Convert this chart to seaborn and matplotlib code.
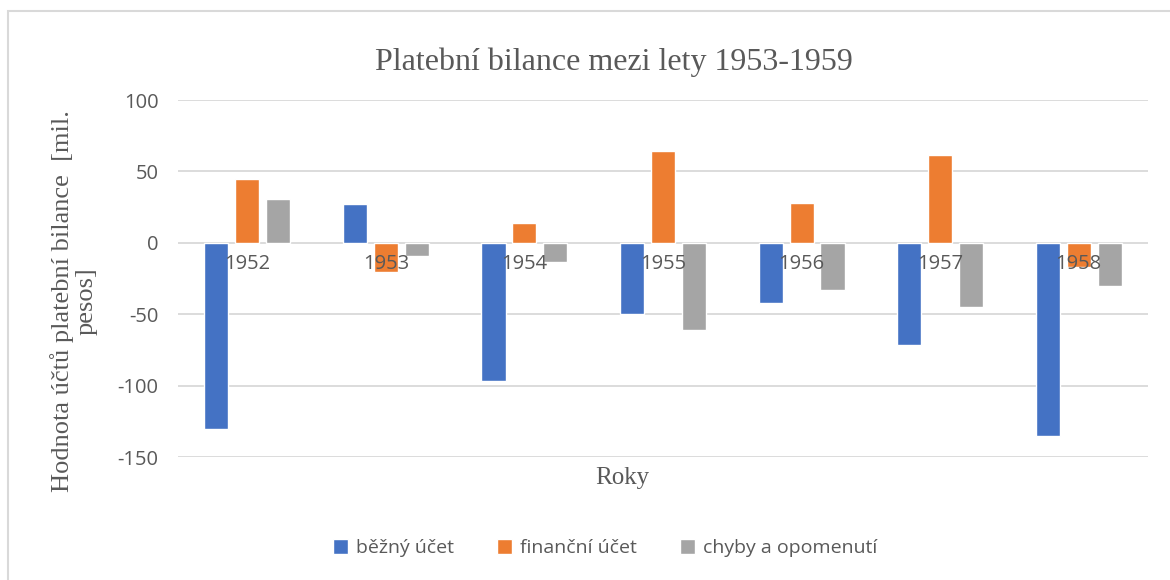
import pandas as pd
import matplotlib.pyplot as plt
import seaborn as sns
from matplotlib.patches import Rectangle

# --- DATA ---
years = ['1952', '1953', '1954', '1955', '1956', '1957', '1958']
bezny_ucet = [-130, 27, -96.5, -49.5, -42, -71.5, -135]
financni_ucet = [45, -20, 14, 64.5, 28, 61.5, -17]
chyby = [31, -9.5, -13.5, -61, -33, -45, -30]
series_names = ['běžný účet', 'finanční účet', 'chyby a opomenutí']
colors = ['#4472C4', '#ED7D31', '#A5A5A5']

TEXT = '#595959'
GRID = '#D9D9D9'

df = pd.DataFrame({'rok': years, series_names[0]: bezny_ucet,
                   series_names[1]: financni_ucet, series_names[2]: chyby})
long_df = df.melt(id_vars='rok', var_name='serie', value_name='hodnota')

sns.set_theme(style='white')
plt.rcParams['font.family'] = ['Open Sans', 'DejaVu Sans']
plt.rcParams['axes.unicode_minus'] = False

fig = plt.figure(figsize=(11.7, 5.8), dpi=100)
ax = fig.add_axes([178 / 1170, 1 - 457.3 / 580, 970 / 1170, 357.3 / 580])

sns.barplot(data=long_df, x='rok', y='hodnota', hue='serie',
            palette=colors, saturation=1, width=0.67, gap=0.22, ax=ax, legend=True)

ax.set_ylim(-150, 100)
ax.set_xlim(-0.5, len(years) - 0.5)
ax.set_yticks([-150, -100, -50, 0, 50, 100])
ax.yaxis.grid(True, color=GRID, linewidth=1.3)
ax.set_axisbelow(True)
for s in ax.spines.values():
    s.set_visible(False)
ax.tick_params(axis='y', length=0, labelsize=14.5, labelcolor=TEXT, pad=14)

# category labels sit just under the zero line
ax.set_xticks([])
ax.set_xlabel('')
for i, yr in enumerate(years):
    ax.annotate(yr, xy=(i, 0), xytext=(0, -8), textcoords='offset points',
                ha='center', va='top', fontsize=14.5, color=TEXT)

ax.set_ylabel('')
fig.text(74 / 1170, 1 - 301 / 580, 'Hodnota účtů platební bilance  [mil.\npesos]',
         rotation=90, ha='center', va='center', multialignment='center',
         family='Liberation Serif', fontsize=19, color=TEXT, linespacing=1.1)
fig.text(622 / 1170, 1 - 478 / 580, 'Roky', ha='center', va='center',
         family='Liberation Serif', fontsize=18, color=TEXT)
fig.text(614 / 1170, 1 - 62 / 580, 'Platební bilance mezi lety 1953-1959',
         ha='center', va='center', family='Liberation Serif', fontsize=23, color=TEXT)

handles, labels = ax.get_legend_handles_labels()
ax.get_legend().remove()
fig.legend(handles, labels, loc='center', bbox_to_anchor=(605 / 1170, 1 - 548 / 580),
           ncol=3, frameon=False, fontsize=14, labelcolor=TEXT,
           handlelength=0.8, handleheight=0.8, handletextpad=0.4, columnspacing=2.2)

fig.patches.append(Rectangle((8 / 1170, -0.1), 1.2, 1 - 11 / 580 + 0.1,
                             transform=fig.transFigure, fill=False,
                             edgecolor=GRID, linewidth=1.5))

fig.savefig('out.png', dpi=100)
